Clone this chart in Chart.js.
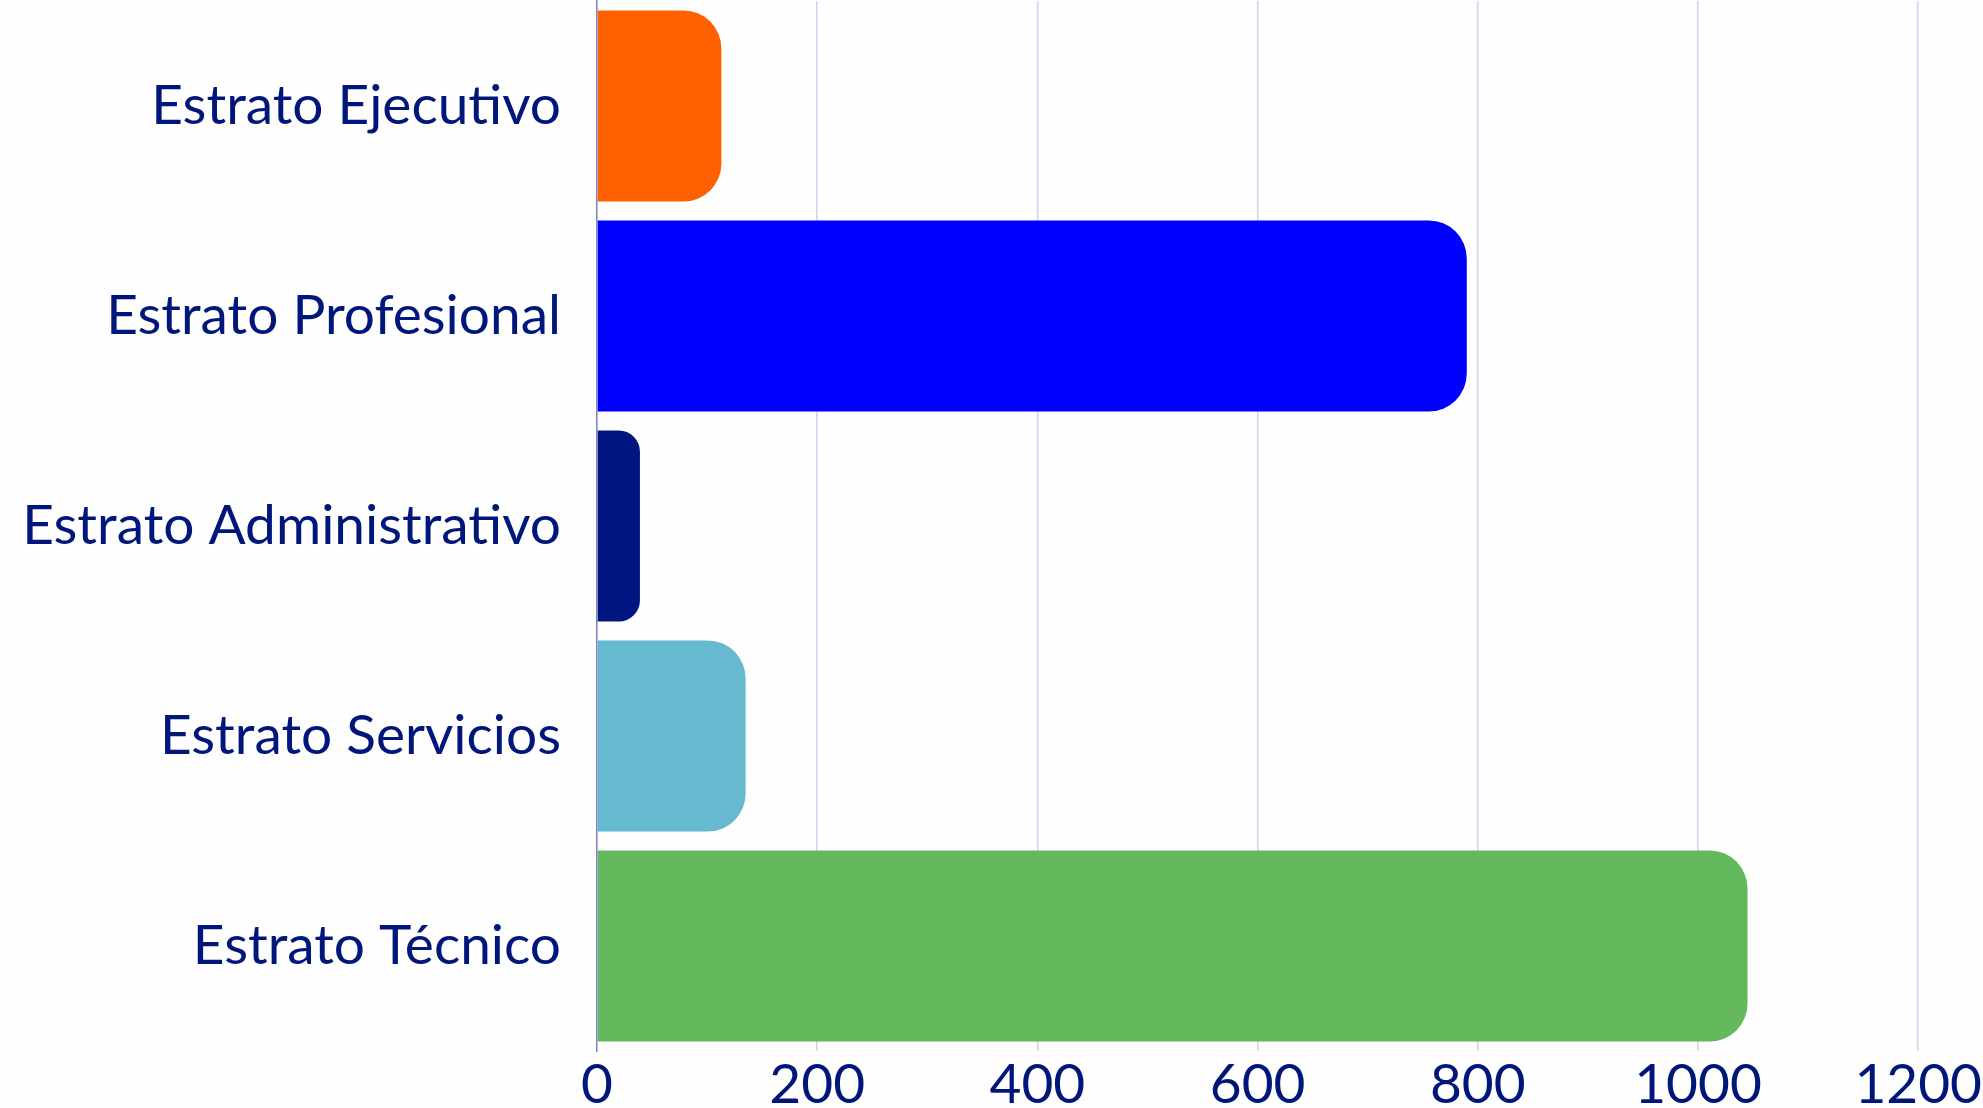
<!DOCTYPE html>
<html>
<head>
<meta charset="utf-8">
<script src="https://cdn.jsdelivr.net/npm/chart.js@4.4.1/dist/chart.umd.min.js"></script>
<style>
    html, body { margin: 0; padding: 0; background: #fdfefd; }
    #wrap { width: 1983px; height: 1108px; }
</style>
</head>
<body>
<div id="wrap"><canvas id="chartId" width="1983" height="1108"></canvas></div>
<script>
var categorias = ["Estrato Ejecutivo", "Estrato Profesional", "Estrato Administrativo", "Estrato Servicios", "Estrato Técnico"];
var valores = [113, 790, 39, 135, 1045];
var colores = ['#ff6000', '#0000ff', '#00157f', '#66b9ce', '#64b95d'];
var ticksX = [0, 200, 400, 600, 800, 1000, 1200];

var textColor = '#00167a';

window.onload = function () {
    var chrt = document.getElementById("chartId").getContext("2d");
    var chartId = new Chart(chrt, {
        type: 'bar',
        data: {
            labels: categorias,
            datasets: [{
                label: "",
                data: valores,
                backgroundColor: colores,
                borderWidth: 0,
                borderRadius: 38,
                borderSkipped: 'start',
                barPercentage: 0.91,
                categoryPercentage: 1,
            }],
        },
        options: {
            indexAxis: 'y',
            responsive: false,
            animation: false,
            layout: {
                padding: { top: 1, right: 1, bottom: 0, left: 0 }
            },
            plugins: {
                legend: { display: false },
                tooltip: { enabled: false }
            },
            scales: {
                x: {
                    min: ticksX[0],
                    max: ticksX[ticksX.length - 1],
                    afterBuildTicks: function (scale) {
                        scale.ticks = ticksX.map(function (v) { return { value: v }; });
                    },
                    afterFit: function (scale) {
                        scale.height = 57;
                    },
                    border: { display: false },
                    grid: {
                        color: '#cfd2ef',
                        lineWidth: 1.5,
                        drawTicks: false,
                    },
                    ticks: {
                        color: textColor,
                        padding: 1,
                        maxRotation: 0,
                        font: { family: 'Lato', size: 55 },
                        callback: function (v) { return String(v); }
                    }
                },
                y: {
                    afterFit: function (scale) {
                        scale.width = 597;
                        scale.paddingTop = 0;
                        scale.paddingBottom = 0;
                    },
                    border: { display: true, color: '#7f86c4', width: 1.5 },
                    grid: { display: false },
                    ticks: {
                        color: textColor,
                        padding: 28,
                        font: { family: 'Lato', size: 55 }
                    }
                }
            }
        },
    });
}
</script>
</body>
</html>
